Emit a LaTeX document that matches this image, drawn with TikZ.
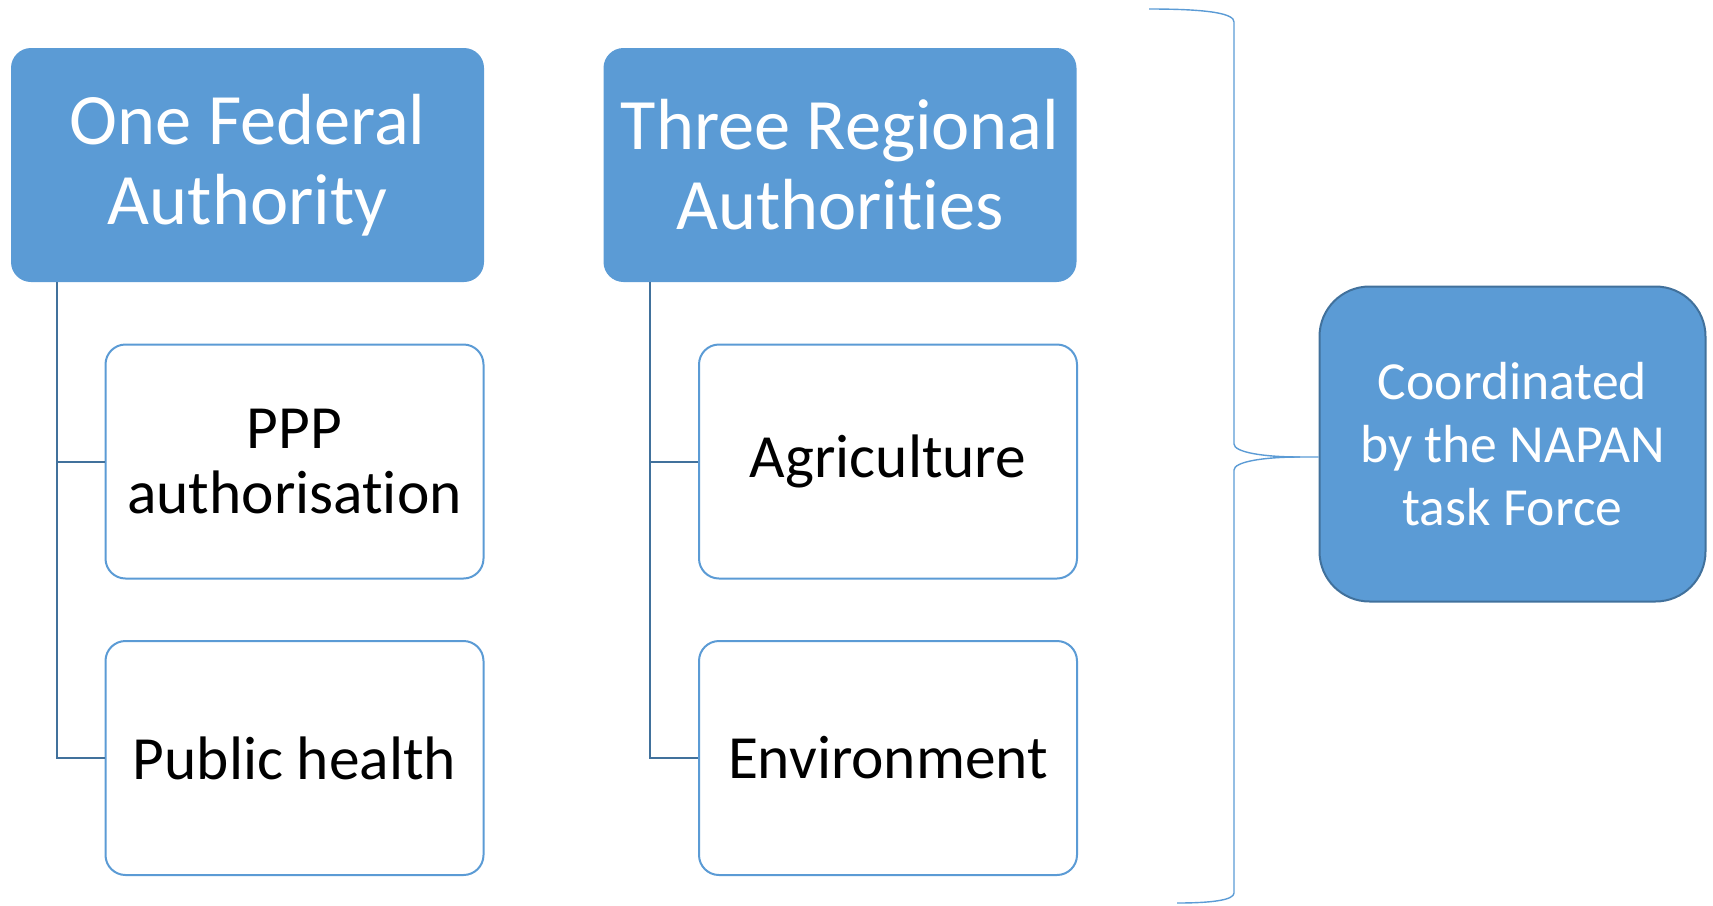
\documentclass[tikz,border=0pt]{standalone}
\usepackage{fontspec}
\setmainfont{Carlito}[Ligatures=NoCommon]
\usepackage{tikz}

\begin{document}
\begin{tikzpicture}[x=0.5pt,y=0.5pt,yscale=-1,xscale=1,
  headbox/.style={fill={rgb, 255:red, 91; green, 155; blue, 213},rounded corners=10pt,text={rgb, 255:red, 255; green, 255; blue, 255},align=center,inner sep=0pt,minimum width=236.5pt,minimum height=117pt,font=\fontsize{36.2}{40}\selectfont},
  subbox/.style={draw={rgb, 255:red, 91; green, 155; blue, 213},line width=1pt,fill=white,rounded corners=10pt,align=center,inner sep=0pt,minimum width=189pt,minimum height=117pt,font=\fontsize{30.7}{32.8}\selectfont},
  taskbox/.style={draw={rgb, 255:red, 65; green, 113; blue, 156},line width=1pt,fill={rgb, 255:red, 91; green, 155; blue, 213},rounded corners=25pt,text={rgb, 255:red, 255; green, 255; blue, 255},align=center,inner sep=0pt,minimum width=193pt,minimum height=157.5pt,font=\fontsize{26.8}{31.5}\selectfont},
  treelink/.style={draw={rgb, 255:red, 65; green, 113; blue, 156},line width=1pt},
  bracelink/.style={draw={rgb, 255:red, 91; green, 155; blue, 213},line width=0.7pt}]
\path (0,0) rectangle (1713,905); %set diagram size 1713 x 905

%Shape: Rounded Rect [id:fed]
\node[headbox] (fed) at (247.5,165) {One Federal\\Authority};
%Shape: Rounded Rect [id:reg]
\node[headbox] (reg) at (840,165) {Three Regional\\Authorities};
%Shape: Rounded Rect [id:ppp]
\node[subbox] (ppp) at (294.5,461.5) {PPP\\authorisation};
%Shape: Rounded Rect [id:pub]
\node[subbox] (pub) at (294.5,758) {Public health};
%Shape: Rounded Rect [id:agr]
\node[subbox] (agr) at (888,461.5) {Agriculture};
%Shape: Rounded Rect [id:env]
\node[subbox] (env) at (888,758) {Environment};
%Shape: Rounded Rect [id:napan]
\node[taskbox] (napan) at (1512.5,444) {Coordinated\\by the NAPAN\\task Force};

%Straight Lines [id:tree]
\draw[treelink] ([xshift=23pt]fed.south west) |- (ppp.west);
\draw[treelink] ([xshift=23pt]fed.south west) |- (pub.west);
\draw[treelink] ([xshift=23.5pt]reg.south west) |- (agr.west);
\draw[treelink] ([xshift=23.5pt]reg.south west) |- (env.west);

%Shape: Brace [id:brace]
\coordinate (bracetop) at (1149,9);
\coordinate (bracebot) at (1177,903);
\coordinate (bracetip) at (napan.west |- 0,457);
\draw[bracelink] (bracetop) .. controls (1212,9) and (1234,14) .. (1234,22) -- (1234,444) .. controls (1234,452) and (1262,457) .. (1300,457) -- (bracetip);
\draw[bracelink] (1300,457) .. controls (1262,457) and (1234,462) .. (1234,470) -- (1234,893) .. controls (1234,900) and (1212,903) .. (bracebot);

\end{tikzpicture}
\end{document}
